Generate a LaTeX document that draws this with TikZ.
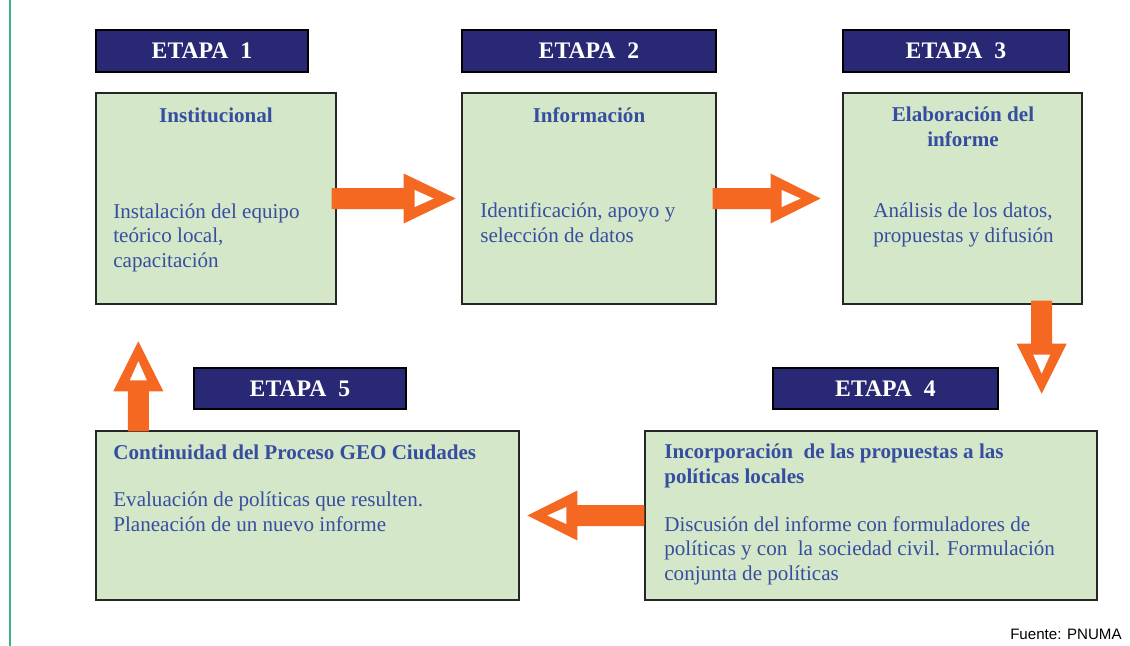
\documentclass[tikz,border=0pt]{standalone}
\usepackage{fontspec}
\setmainfont{Liberation Serif}
\newfontfamily\fuentesans{Liberation Sans}
\usetikzlibrary{calc}

\definecolor{azuletapa}{RGB}{40,40,116}
\definecolor{verdecaja}{RGB}{212,231,200}
\definecolor{azultexto}{RGB}{55,78,160}
\definecolor{naranja}{RGB}{244,104,34}
\definecolor{verdelinea}{RGB}{60,180,130}

\tikzset{
  etapa/.style={draw=black, line width=0.9pt, fill=azuletapa, text=white,
    font=\fontsize{13.5}{15}\selectfont\bfseries, inner sep=0pt},
  caja/.style={draw=black!85, line width=0.8pt, fill=verdecaja, inner sep=0pt},
  titulo/.style={text=azultexto, font=\fontsize{12}{13.7}\selectfont\bfseries,
    inner sep=0pt},
  cuerpo/.style={text=azultexto, font=\fontsize{12}{13.7}\selectfont,
    inner sep=0pt, align=left}
}

% flecha de bloque: inicio, angulo, largo del cuerpo, largo de la punta
\newcommand\flecha[4]{
  \fill[naranja, shift={#1}, rotate=#2] (0,-10.5) -- (#3,-10.5) -- (#3,-25)
    -- ({#3+#4},0) -- (#3,25) -- (#3,10.5) -- (0,10.5) -- cycle;
  \fill[white, shift={#1}, rotate=#2] ({#3+11},-8.5) -- ({#3+30},0)
    -- ({#3+11},8.5) -- cycle;
}

\begin{document}
\begin{tikzpicture}[x=0.02cm, y=-0.02cm]
  \useasboundingbox (0,0) rectangle (1130,646);
  \draw[verdelinea, line width=0.9pt] (10,0) -- (10,646);

  \node[etapa, minimum width=4.24cm, minimum height=0.84cm] (etapa1) at (202,51) {ETAPA\ \ 1};
  \node[etapa, minimum width=5.08cm, minimum height=0.84cm] (etapa2) at (589,51) {ETAPA\ \ 2};
  \node[etapa, minimum width=4.52cm, minimum height=0.84cm] (etapa3) at (956,51) {ETAPA\ \ 3};
  \node[etapa, minimum width=4.5cm, minimum height=0.82cm] (etapa4) at (885.5,388.5) {ETAPA\ \ 4};
  \node[etapa, minimum width=4.24cm, minimum height=0.82cm] (etapa5) at (300,388.5) {ETAPA\ \ 5};

  \node[caja, minimum width=4.8cm, minimum height=4.22cm] (caja1) at (216,198.5) {};
  \node[caja, minimum width=5.08cm, minimum height=4.22cm] (caja2) at (589,198.5) {};
  \node[caja, minimum width=4.78cm, minimum height=4.22cm] (caja3) at (962.5,198.5) {};
  \node[caja, minimum width=9.04cm, minimum height=3.38cm] (caja4) at (871,515.5) {};
  \node[caja, minimum width=8.46cm, minimum height=3.38cm] (caja5) at (307.5,515.5) {};

  % anchor=base: linea de base de la ultima linea
  \node[titulo, anchor=base] (tit1) at (216,122) {Institucional};
  \node[cuerpo, anchor=base west] (txt1) at (113,267)
    {Instalación del equipo\\teórico local,\\capacitación};
  \node[titulo, anchor=base] (tit2) at (589,122) {Información};
  \node[cuerpo, anchor=base west] (txt2) at (480,242)
    {Identificación, apoyo y\\selección de datos};
  \node[titulo, anchor=base, align=center] (tit3) at (963,146)
    {Elaboración del\\informe};
  \node[cuerpo, anchor=base west] (txt3) at (873,242)
    {Análisis de los datos,\\propuestas y difusión};
  \node[titulo, anchor=base west, align=left] (tit4) at (664,483)
    {Incorporación\ \ de las propuestas a las\\políticas locales};
  \node[cuerpo, anchor=base west] (txt4) at (664,580)
    {Discusión del informe con formuladores de\\políticas y con\ \ la sociedad civil. Formulación\\conjunta de políticas};
  \node[titulo, anchor=base west] (tit5) at (113,459)
    {Continuidad del Proceso GEO Ciudades};
  \node[cuerpo, anchor=base west] (txt5) at (113,531)
    {Evaluación de políticas que resulten.\\Planeación de un nuevo informe};

  \flecha{($(caja1.east)+(-5,0)$)}{0}{72}{52}
  \flecha{($(caja2.east)+(-4,0)$)}{0}{58}{50}
  \flecha{($(caja3.south east)+(-41,-4)$)}{-90}{43}{50}
  \flecha{($(caja4.west)$)}{180}{67}{50}
  \flecha{($(caja5.north west)+(43,1)$)}{90}{40}{50}

  \node[anchor=base east, inner sep=0pt, font=\fuentesans\fontsize{8.6}{10}\selectfont]
    (fuente) at (1122,639) {Fuente: PNUMA};
\end{tikzpicture}
\end{document}
